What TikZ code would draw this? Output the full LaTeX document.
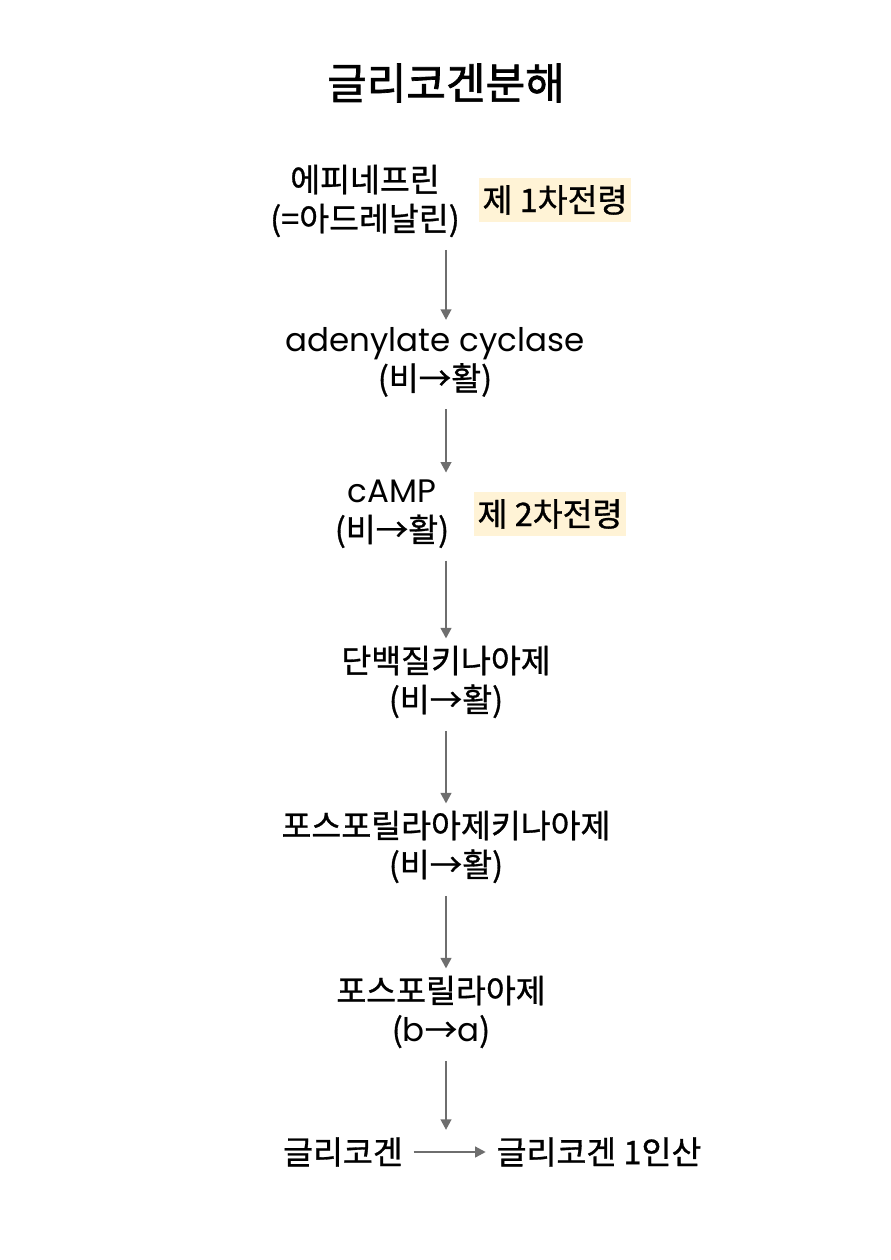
\documentclass[tikz,border=0pt]{standalone}
\usepackage{fontspec}
\setmainfont{Noto Sans CJK KR}[FakeBold=0.9]
\newfontfamily\latfont{Poppins}
\newfontfamily\titlefont{Noto Sans CJK KR}[FakeBold=1.6]
\usetikzlibrary{arrows.meta}
\definecolor{arrgray}{HTML}{6E6E6E}
\definecolor{hlyellow}{HTML}{FFF3D6}

\begin{document}
\begin{tikzpicture}[x=0.02cm,y=-0.02cm,
                txt/.style={align=center,font=\fontsize{18.5}{22.2}\selectfont,inner xsep=3pt,inner ysep=4pt},
                hl/.style={fill=hlyellow,font=\fontsize{18.5}{22.2}\selectfont,inner xsep=2pt,inner ysep=4pt},
                arr/.style={draw=arrgray,line width=1.3pt,shorten <=3pt,-{Triangle[length=6pt,width=6pt]}}]
                \useasboundingbox (0,0) rectangle (891,1260);
                \node (title) at (446,83) {\titlefont\fontsize{24.5}{28}\selectfont 글리코겐분해};
                \node[txt] (epi) at (365,201) {에피네프린\\(=아드레날린)};
                \node[hl] (msg1) at (555,200) {제 1차전령};
                \node[txt] (cyc) at (435,362) {{\latfont adenylate cyclase}\\(비→활)};
                \node[txt] (camp) at (392,514) {{\latfont cAMP}\\(비→활)};
                \node[hl] (msg2) at (550,514) {제 2차전령};
                \node[txt] (pka) at (446,682) {단백질키나아제\\(비→활)};
                \node[txt] (phk) at (446,847) {포스포릴라아제키나아제\\(비→활)};
                \node[txt] (phos) at (441,1012) {포스포릴라아제\\({\latfont b}→{\latfont a})};
                \node[txt] (glyco) at (343,1152) {글리코겐};
                \node[txt] (g1p) at (599,1152) {글리코겐 1인산};
                % arrows
                \draw[arr] (epi.south -| pka) -- (cyc.north -| pka);
                \draw[arr] (cyc.south -| pka) -- (camp.north -| pka);
                \draw[arr] (camp.south -| pka) -- (pka.north);
                \draw[arr] (pka.south) -- (phk.north);
                \draw[arr] (phk.south -| pka) -- (phos.north -| pka);
                \draw[arr] (phos.south -| pka) -- (glyco.north -| pka);
                \draw[arr,shorten >=3pt] (glyco) -- (g1p);
            \end{tikzpicture}
\end{document}
